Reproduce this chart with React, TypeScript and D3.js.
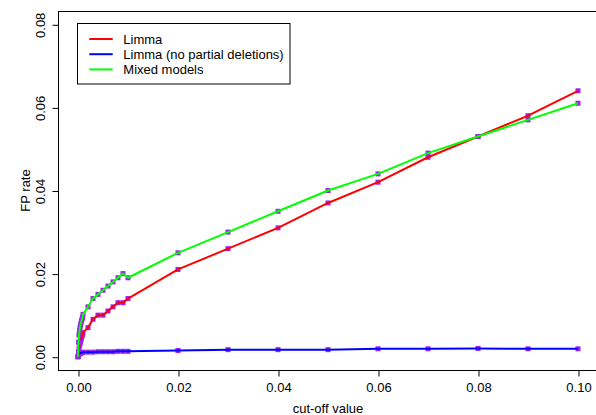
import React, { useEffect, useRef } from 'react';
import * as d3 from 'd3';

// cut-off values (x) and FP rate per method (y)
const cutoffs = [
  0, 0.0001, 0.0002, 0.0003, 0.0004, 0.0005, 0.0006, 0.0007, 0.0008, 0.0009,
  0.001, 0.002, 0.003, 0.004, 0.005, 0.006, 0.007, 0.008, 0.009,
  0.01, 0.02, 0.03, 0.04, 0.05, 0.06, 0.07, 0.08, 0.09, 0.1,
];
const limma = [
  0, 0.0012, 0.002, 0.0026, 0.0031, 0.0036, 0.004, 0.0045, 0.005, 0.0053,
  0.0058, 0.007, 0.009, 0.01, 0.01, 0.011, 0.012, 0.013, 0.013,
  0.014, 0.021, 0.026, 0.031, 0.037, 0.042, 0.048, 0.053, 0.058, 0.064,
];
const limmaNoPartial = [
  0, 0.0004, 0.0006, 0.0007, 0.0008, 0.0009, 0.0009, 0.001, 0.001, 0.001,
  0.0011, 0.0011, 0.0011, 0.0012, 0.0012, 0.0012, 0.0012, 0.0013, 0.0013,
  0.0013, 0.0015, 0.0017, 0.0017, 0.0017, 0.0019, 0.0019, 0.002, 0.0019, 0.0019,
];
const mixedModels = [
  0, 0.0035, 0.0052, 0.0062, 0.007, 0.0076, 0.0081, 0.0086, 0.009, 0.0095,
  0.0102, 0.012, 0.014, 0.015, 0.016, 0.017, 0.018, 0.019, 0.02,
  0.019, 0.025, 0.03, 0.035, 0.04, 0.044, 0.049, 0.053, 0.057, 0.061,
];

const xTicks = [0, 0.02, 0.04, 0.06, 0.08, 0.1];
const yTicks = [0, 0.02, 0.04, 0.06, 0.08];
const seriesNames = ['Limma', 'Limma (no partial deletions)', 'Mixed models'];
const seriesColors = ['#ff0000', '#0000ff', '#00ff00'];

const FONT = "'Liberation Sans', Arial, Helvetica, sans-serif";

const App = () => {
  const ref = useRef<SVGSVGElement>(null);

  useEffect(() => {
    document.body.style.margin = '0';
    const svg = d3.select(ref.current);
    svg.selectAll('*').remove();

    const plot = { left: 58, top: 11, right: 598, bottom: 370 };
    const x = d3.scaleLinear().domain([-0.004, 0.104]).range([plot.left, plot.right]);
    const y = d3.scaleLinear().domain([-0.0032, 0.0832]).range([plot.bottom, plot.top]);

    svg.append('defs')
      .append('clipPath')
      .attr('id', 'plotClip')
      .append('rect')
      .attr('x', plot.left)
      .attr('y', plot.top)
      .attr('width', plot.right - plot.left)
      .attr('height', plot.bottom - plot.top);

    // series
    const allSeries = [limma, limmaNoPartial, mixedModels];
    const dataG = svg.append('g').attr('clip-path', 'url(#plotClip)');
    const line = d3.line<number>()
      .x((d, i) => x(cutoffs[i]))
      .y((d) => y(d));

    allSeries.forEach((vals, si) => {
      dataG.append('g')
        .selectAll('rect')
        .data(vals)
        .enter()
        .append('rect')
        .attr('x', (d, i) => x(cutoffs[i]) - 2.5)
        .attr('y', (d) => y(d) - 2.5)
        .attr('width', 5)
        .attr('height', 5)
        .attr('fill', '#a020f0');
      dataG.append('path')
        .datum(vals)
        .attr('d', line)
        .attr('fill', 'none')
        .attr('stroke', seriesColors[si])
        .attr('stroke-width', 2)
        .attr('stroke-linejoin', 'round');
    });

    // box
    svg.append('rect')
      .attr('x', plot.left + 0.5)
      .attr('y', plot.top + 0.5)
      .attr('width', plot.right - plot.left)
      .attr('height', plot.bottom - plot.top)
      .attr('fill', 'none')
      .attr('stroke', '#000')
      .attr('stroke-width', 1);

    // x axis
    const xAxis = svg.append('g')
      .attr('transform', `translate(0.5,${plot.bottom + 0.5})`)
      .call(d3.axisBottom(x).tickValues(xTicks).tickSize(6).tickFormat(d3.format('.2f')));
    xAxis.select('.domain').remove();
    xAxis.selectAll('text')
      .attr('y', 21)
      .attr('dy', null)
      .attr('fill', '#000')
      .style('font-size', '13px')
      .style('font-family', FONT);

    // y axis
    const yAxis = svg.append('g')
      .attr('transform', `translate(${plot.left + 0.5},0.5)`)
      .call(d3.axisLeft(y).tickValues(yTicks).tickSize(6).tickFormat(d3.format('.2f')));
    yAxis.select('.domain').remove();
    yAxis.selectAll('text')
      .attr('x', 0)
      .attr('y', 0)
      .attr('dy', null)
      .attr('text-anchor', 'middle')
      .attr('transform', 'translate(-14,0) rotate(-90)')
      .attr('fill', '#000')
      .style('font-size', '13px')
      .style('font-family', FONT);

    // axis titles
    svg.append('text')
      .attr('x', (x(0) + x(0.1)) / 2)
      .attr('y', 413)
      .attr('text-anchor', 'middle')
      .style('font-size', '13px')
      .style('font-family', FONT)
      .text('cut-off value');

    svg.append('text')
      .attr('transform', `translate(30,${(y(0) + y(0.08)) / 2}) rotate(-90)`)
      .attr('text-anchor', 'middle')
      .style('font-size', '13px')
      .style('font-family', FONT)
      .text('FP rate');

    // legend
    const legend = svg.append('g');
    legend.append('rect')
      .attr('x', 77.5)
      .attr('y', 23.5)
      .attr('width', 212.5)
      .attr('height', 60.5)
      .attr('fill', '#fff')
      .attr('stroke', '#000');
    seriesNames.forEach((name, i) => {
      const ly = 39 + i * 15.2;
      legend.append('line')
        .attr('x1', 89.3)
        .attr('x2', 112.7)
        .attr('y1', ly)
        .attr('y2', ly)
        .attr('stroke', seriesColors[i])
        .attr('stroke-width', 2);
      legend.append('text')
        .attr('x', 123.3)
        .attr('y', ly + 4.7)
        .style('font-size', '13px')
        .style('font-family', FONT)
        .text(name);
    });
  }, []);

  return <svg ref={ref} width={596} height={415} style={{ display: 'block' }} />;
};

export default App;
